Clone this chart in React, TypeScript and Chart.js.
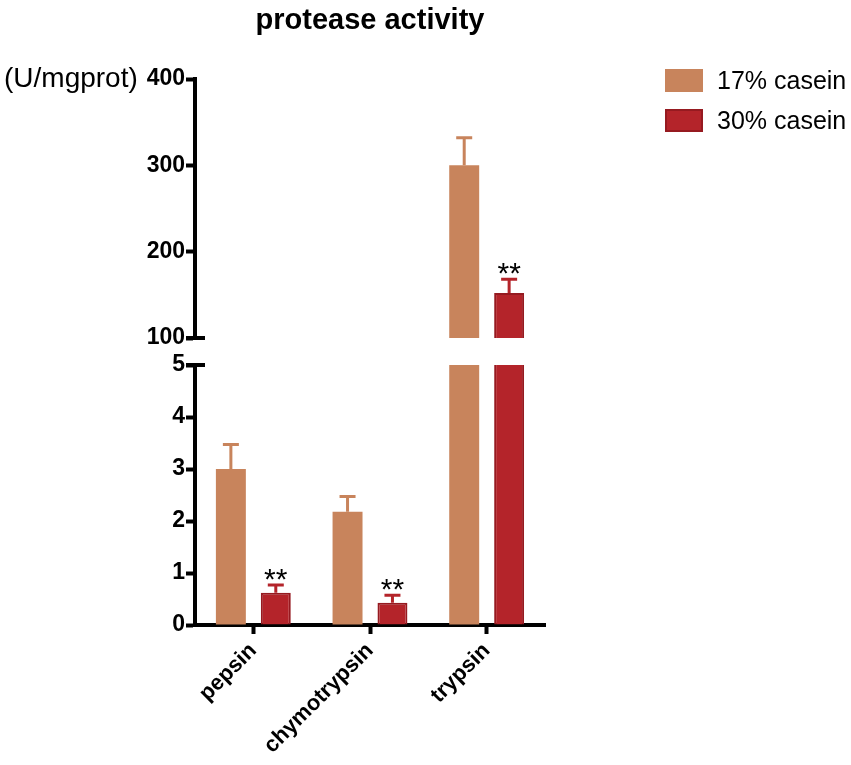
import { useEffect, useRef } from "react"
import { Chart, registerables } from "chart.js"

Chart.register(...registerables)

// dados
const enzymes = ["pepsin", "chymotrypsin", "trypsin"]
const casein17 = [3.0, 2.18, 300]
const casein17Err = [0.47, 0.29, 32]
const casein30 = [0.62, 0.43, 152]
const casein30Err = [0.15, 0.14, 16]
const marks30 = ["**", "**", "**"]
const lowRange = [0, 5]
const highRange = [100, 400]

const ORANGE = "rgb(200, 132, 92)"
const RED = "rgb(180, 36, 42)"
const RED_EDGE = "rgb(150, 26, 32)"

const FONT = "'Liberation Sans', Arial, Helvetica, sans-serif"

// barras de erro (só para cima) e asteriscos
const errorBars = {
  id: "errorBars",
  afterDatasetsDraw(chart: any) {
    const { ctx, chartArea } = chart
    const y = chart.scales.y
    chart.data.datasets.forEach((ds: any, i: number) => {
      const meta = chart.getDatasetMeta(i)
      meta.data.forEach((bar: any, j: number) => {
        const v = ds.data[j]
        const top = y.getPixelForValue(v)
        if (top < chartArea.top - 1 || top > chartArea.bottom) return
        const tip = y.getPixelForValue(v + ds.errors[j])
        ctx.save()
        ctx.strokeStyle = ds.errorColor
        ctx.lineWidth = 3
        ctx.beginPath()
        ctx.moveTo(bar.x, top)
        ctx.lineTo(bar.x, tip)
        ctx.moveTo(bar.x - 8, tip)
        ctx.lineTo(bar.x + 8, tip)
        ctx.stroke()
        if (ds.marks && ds.marks[j]) {
          ctx.fillStyle = "#000"
          ctx.font = `30px ${FONT}`
          ctx.textAlign = "center"
          ctx.textBaseline = "alphabetic"
          ctx.fillText(ds.marks[j], bar.x, tip + 4)
        }
        ctx.restore()
      })
    })
  },
}

// traço da quebra do eixo
const breakCap = {
  id: "breakCap",
  afterDraw(chart: any, _args: any, opts: any) {
    const { ctx, chartArea } = chart
    const y = chart.scales.y
    const py = y.getPixelForValue(opts.edge === "min" ? y.min : y.max)
    ctx.save()
    ctx.strokeStyle = "#000"
    ctx.lineWidth = 4
    ctx.beginPath()
    ctx.moveTo(chartArea.left - 9, py)
    ctx.lineTo(chartArea.left + 10, py)
    ctx.stroke()
    ctx.restore()
  },
}

function makeDatasets() {
  return [
    {
      label: "17% casein",
      data: casein17,
      errors: casein17Err,
      errorColor: ORANGE,
      backgroundColor: ORANGE,
      borderWidth: 0,
      clip: 0,
    },
    {
      label: "30% casein",
      data: casein30,
      errors: casein30Err,
      marks: marks30,
      errorColor: RED,
      backgroundColor: RED,
      borderColor: RED_EDGE,
      borderWidth: 2,
      clip: 0,
    },
  ]
}

function axisY(range: number[], step: number) {
  return {
    min: range[0],
    max: range[1],
    afterFit: (scale: any) => {
      scale.width = 195
    },
    border: { display: true, color: "#000", width: 4 },
    grid: { display: true, drawOnChartArea: false, tickLength: 9, tickWidth: 4, tickColor: "#000" },
    ticks: {
      stepSize: step,
      color: "#000",
      padding: 1,
      font: { size: 23, weight: "bold" as const, family: FONT },
    },
  }
}

function BrokenBarChart() {
  const topRef = useRef<HTMLCanvasElement>(null)
  const bottomRef = useRef<HTMLCanvasElement>(null)

  useEffect(() => {
    document.body.style.margin = "0"
    const charts: Chart[] = []

    if (topRef.current) {
      charts.push(
        new Chart(topRef.current, {
          type: "bar",
          data: { labels: enzymes, datasets: makeDatasets() as any },
          options: {
            animation: false,
            responsive: true,
            maintainAspectRatio: false,
            categoryPercentage: 0.77,
            barPercentage: 0.667,
            layout: { padding: { left: 0, right: 306, top: 79, bottom: 427 } },
            plugins: {
              legend: { display: false },
              tooltip: { enabled: false },
              breakCap: { edge: "min" },
            } as any,
            scales: {
              x: { display: false },
              y: axisY(highRange, 100) as any,
            },
          },
          plugins: [errorBars, breakCap],
        })
      )
    }

    if (bottomRef.current) {
      charts.push(
        new Chart(bottomRef.current, {
          type: "bar",
          data: { labels: enzymes, datasets: makeDatasets() as any },
          options: {
            animation: false,
            responsive: true,
            maintainAspectRatio: false,
            categoryPercentage: 0.77,
            barPercentage: 0.667,
            layout: { padding: { left: 0, right: 306, top: 365, bottom: 0 } },
            plugins: {
              legend: { display: false },
              tooltip: { enabled: false },
              breakCap: { edge: "max" },
            } as any,
            scales: {
              x: {
                afterFit: (scale: any) => {
                  scale.height = 140
                },
                border: { display: true, color: "#000", width: 4 },
                grid: {
                  display: true,
                  offset: false,
                  drawOnChartArea: false,
                  tickLength: 9,
                  tickWidth: 4,
                  tickColor: "#000",
                },
                ticks: {
                  color: "#000",
                  minRotation: 45,
                  maxRotation: 45,
                  padding: 4,
                  font: { size: 22, weight: "bold", family: FONT },
                },
              },
              y: axisY(lowRange, 1) as any,
            },
          },
          plugins: [errorBars, breakCap],
        })
      )
    }

    return () => {
      charts.forEach((c) => c.destroy())
    }
  }, [])

  const layer: React.CSSProperties = { position: "absolute", left: 0, top: 0, width: 851, height: 765 }

  return (
    <div style={{ position: "relative", width: 851, height: 765, fontFamily: FONT, overflow: "hidden" }}>
      <div style={layer}>
        <canvas ref={bottomRef}></canvas>
      </div>
      <div style={layer}>
        <canvas ref={topRef}></canvas>
      </div>
      <div
        style={{
          position: "absolute",
          left: 170,
          width: 400,
          top: 3,
          textAlign: "center",
          fontSize: 29,
          fontWeight: "bold",
          color: "#000",
        }}
      >
        protease activity
      </div>
      <div style={{ position: "absolute", left: 4, top: 62, fontSize: 28, color: "#000" }}>(U/mgprot)</div>
      <div style={{ position: "absolute", left: 665, top: 68, fontSize: 25, color: "#000" }}>
        {[
          ["17% casein", ORANGE, ORANGE],
          ["30% casein", RED, RED_EDGE],
        ].map(([name, fill, edge]) => (
          <div key={name} style={{ display: "flex", alignItems: "center", height: 24, marginBottom: 16 }}>
            <span
              style={{
                display: "inline-block",
                width: 38,
                height: 23,
                boxSizing: "border-box",
                background: fill,
                border: `2px solid ${edge}`,
                marginRight: 14,
              }}
            ></span>
            <span>{name}</span>
          </div>
        ))}
      </div>
    </div>
  )
}

export default function App() {
  return <BrokenBarChart />
}
